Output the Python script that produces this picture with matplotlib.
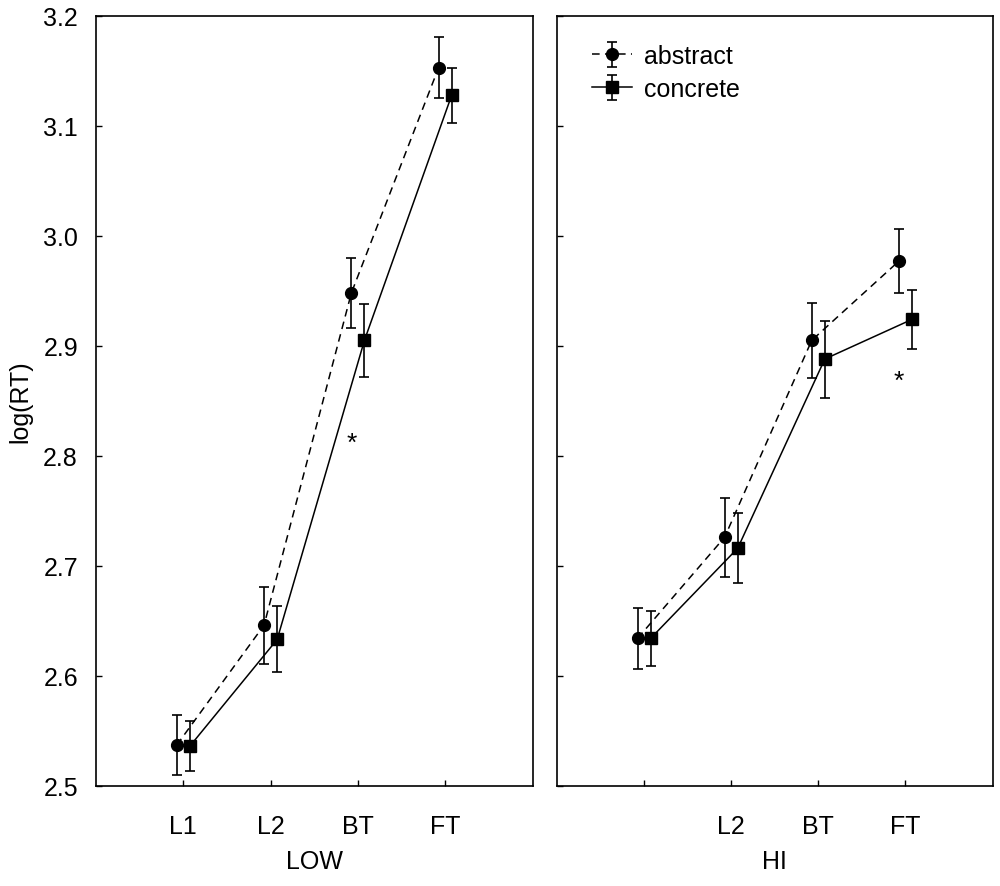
import matplotlib
matplotlib.use("Agg")
import matplotlib.pyplot as plt
import numpy as np

plt.rcParams['font.family'] = ['Liberation Sans', 'DejaVu Sans']

# conditions on the x axis (HI panel has no label on the first position)
low_labels = ['L1', 'L2', 'BT', 'FT']
hi_labels = ['', 'L2', 'BT', 'FT']

# mean log(RT) and error bar half widths
low_abstract = [2.537, 2.646, 2.948, 3.153]
low_abstract_err = [0.027, 0.035, 0.032, 0.028]
low_concrete = [2.536, 2.633, 2.905, 3.128]
low_concrete_err = [0.023, 0.030, 0.033, 0.025]

hi_abstract = [2.634, 2.726, 2.905, 2.977]
hi_abstract_err = [0.028, 0.036, 0.034, 0.029]
hi_concrete = [2.634, 2.716, 2.888, 2.924]
hi_concrete_err = [0.025, 0.032, 0.035, 0.027]

# significance stars: (position index, y value)
low_star = (3, 2.812)
hi_star = (4, 2.868)

fig = plt.figure(figsize=(10, 8.87), dpi=100)
ax1 = fig.add_axes([0.096, 0.113, 0.4365, 0.868])
ax2 = fig.add_axes([0.557, 0.113, 0.4355, 0.868])

x = np.arange(1, 5)
shift = 0.075
ekw = dict(color='black', ecolor='black', elinewidth=1.2, capsize=3.6,
           capthick=1.2, lw=1.1, markersize=8.5)


def draw_panel(ax, abst, abst_err, conc, conc_err, labels, star, xlabel):
    a = ax.errorbar(x - shift, abst, yerr=abst_err, fmt='o', linestyle=(0, (5, 3.5)),
                    label='abstract', **ekw)
    c = ax.errorbar(x + shift, conc, yerr=conc_err, fmt='s', linestyle='-',
                    label='concrete', **ekw)
    ax.text(star[0] - shift, star[1], '*', ha='center', va='center', fontsize=19)
    ax.set_xlim(0, 5)
    ax.set_ylim(2.5, 3.2)
    ax.set_xticks(x)
    ax.set_xticklabels(labels)
    ax.set_yticks(np.arange(2.5, 3.21, 0.1))
    ax.tick_params(direction='in', length=4, width=1, labelsize=18,
                   top=False, right=False)
    ax.tick_params(axis='x', pad=20)
    ax.tick_params(axis='y', pad=13)
    ax.set_xlabel(xlabel, fontsize=18, labelpad=8)
    for s in ax.spines.values():
        s.set_linewidth(1.2)
    return a, c


draw_panel(ax1, low_abstract, low_abstract_err, low_concrete, low_concrete_err,
           low_labels, low_star, 'LOW')
ax1.set_yticklabels(['%.1f' % v for v in np.arange(2.5, 3.21, 0.1)])
ax1.set_ylabel('log(RT)', fontsize=18, labelpad=8)

draw_panel(ax2, hi_abstract, hi_abstract_err, hi_concrete, hi_concrete_err,
           hi_labels, hi_star, 'HI')
ax2.set_yticklabels([])

ax2.legend(loc='upper left', bbox_to_anchor=(0.04, 0.986), frameon=False,
           fontsize=18, handlelength=1.6, handletextpad=0.5, labelspacing=0.35,
           borderaxespad=0.3)

fig.savefig('out.png', dpi=100)
